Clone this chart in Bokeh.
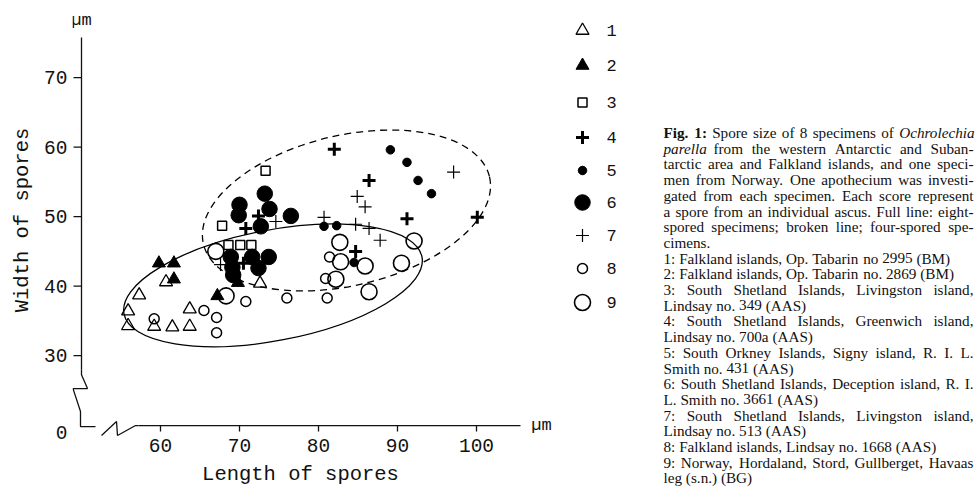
from bokeh.plotting import figure
from bokeh.models import Range1d, LinearAxis, FixedTicker
from bokeh.layouts import row
from bokeh.embed import file_html
from bokeh.resources import INLINE
from bokeh.core.properties import value

# ---------------- data (length, width of spores, in µm) ----------------
s1_len = [55.9, 55.9, 57.3, 59.2, 60.7, 61.5, 63.7, 63.7, 72.6]
s1_wid = [36.4, 34.3, 38.7, 34.2, 40.6, 34.1, 34.2, 36.7, 40.4]

s2_len = [59.8, 61.7, 61.7, 67.2, 69.8]
s2_wid = [43.3, 43.3, 41.0, 38.6, 40.5]

s3_len = [67.8, 73.3, 68.6, 70.1, 71.5]
s3_wid = [48.7, 56.6, 45.9, 45.9, 45.9]

s4_len = [70.8, 72.4, 70.5, 82.0, 86.4, 84.7, 91.2, 100.1]
s4_wid = [48.3, 50.1, 43.3, 59.7, 55.2, 45.0, 49.7, 49.9]

s5_len = [80.7, 82.3, 84.5, 89.1, 91.2, 92.6, 94.3]
s5_wid = [48.6, 48.7, 43.4, 59.6, 57.8, 55.2, 53.3]

s6_len = [73.2, 70.0, 73.8, 69.9, 76.5, 72.7, 68.9, 71.6, 73.7, 72.4, 69.1, 69.2]
s6_wid = [53.3, 51.7, 51.1, 50.2, 50.1, 48.6, 44.2, 44.2, 44.2, 42.6, 42.7, 41.6]

s7_len = [74.6, 80.7, 84.7, 86.4, 87.8, 84.9, 85.9, 97.1, 67.6]
s7_wid = [49.3, 49.9, 48.9, 48.3, 46.6, 52.9, 51.4, 56.4, 43.1]

s8_len = [59.2, 65.5, 67.1, 67.1, 70.8, 76.0, 81.1, 80.9, 81.4]
s8_wid = [35.3, 36.5, 35.5, 33.3, 37.8, 38.3, 38.3, 41.1, 44.2]

s9_len = [67.0, 68.3, 82.7, 82.8, 85.9, 90.5, 82.2, 86.4, 92.1]
s9_wid = [45.0, 38.6, 46.3, 43.5, 42.9, 43.3, 41.0, 39.2, 46.5]

series_names = ["1", "2", "3", "4", "5", "6", "7", "8", "9"]
series_len = [s1_len, s2_len, s3_len, s4_len, s5_len, s6_len, s7_len, s8_len, s9_len]
series_wid = [s1_wid, s2_wid, s3_wid, s4_wid, s5_wid, s6_wid, s7_wid, s8_wid, s9_wid]

# envelopes: centre length, centre width, extent along length, extent along width, tilt (deg)
eight_spored = dict(x=74.24, y=40.11, w=38.4, h=15.9, a=10.8)
four_spored = dict(x=83.54, y=50.88, w=37.2, h=21.6, a=13.2)

x_ticks = [60, 70, 80, 90, 100]
y_ticks = [30, 40, 50, 60, 70]

caption = [
    "Fig. 1: Spore size of 8 specimens of Ochrolechia",
    "parella from the western Antarctic and Suban-",
    "tarctic area and Falkland islands, and one speci-",
    "men from Norway. One apothecium was investi-",
    "gated from each specimen. Each score represent",
    "a spore from an individual ascus. Full line: eight-",
    "spored specimens; broken line; four-spored spe-",
    "cimens.",
    "1: Falkland islands, Op. Tabarin no 2995 (BM)",
    "2: Falkland islands, Op. Tabarin no. 2869 (BM)",
    "3: South Shetland Islands, Livingston island,",
    "Lindsay no. 349 (AAS)",
    "4: South Shetland Islands, Greenwich island,",
    "Lindsay no. 700a (AAS)",
    "5: South Orkney Islands, Signy island, R. I. L.",
    "Smith no. 431 (AAS)",
    "6: South Shetland Islands, Deception island, R. I.",
    "L. Smith no. 3661 (AAS)",
    "7: South Shetland Islands, Livingston island,",
    "Lindsay no. 513 (AAS)",
    "8: Falkland islands, Lindsay no. 1668 (AAS)",
    "9: Norway, Hordaland, Stord, Gullberget, Havaas",
    "leg (s.n.) (BG)",
]
justified_lines = {0, 1, 2, 3, 4, 5, 6, 10, 12, 14, 16, 18, 21}
word_styles = {(0, 0): "bold", (0, 1): "bold", (0, 8): "italic", (1, 0): "italic"}

# ---------------- styles ----------------
styles = [
    dict(marker="triangle", size=13, fill_color=None, line_width=1.3),
    dict(marker="triangle", size=13, fill_color="black", line_width=1.0),
    dict(marker="square", size=9, fill_color=None, line_width=1.5),
    dict(marker="cross", size=13, fill_color=None, line_width=3.0),
    dict(marker="circle", size=8.5, fill_color="black", line_width=1.0),
    dict(marker="circle", size=15.5, fill_color="black", line_width=1.0),
    dict(marker="cross", size=13, fill_color=None, line_width=1.2),
    dict(marker="circle", size=10, fill_color=None, line_width=1.5),
    dict(marker="circle", size=16, fill_color=None, line_width=1.6),
]

MONO = "Liberation Mono"
SERIF = "Liberation Serif"
INK = "#111111"

# page-pixel geometry of the plotting area (page == canvas)
X_PX60, X_PX_PER = 160.0, 7.9
Y_PX30, Y_PX_PER = 356.0, 6.97


def px2x(px):
    return 60 + (px - X_PX60) / X_PX_PER


def px2y(py):
    return 30 + (Y_PX30 - py) / Y_PX_PER


H = 488
W1 = 528
ML, MR, MT, MB = 72, 0, 2, 50
fl, fr, ft, fb = ML, W1 - MR, MT, H - MB

p = figure(width=W1, height=H, output_backend="svg", toolbar_location=None,
           x_range=Range1d(px2x(fl), px2x(fr)), y_range=Range1d(px2y(fb), px2y(ft)),
           x_axis_type=None, y_axis_type=None,
           min_border_left=ML, min_border_right=MR, min_border_top=MT, min_border_bottom=MB)
p.outline_line_color = None
p.background_fill_color = "white"
p.border_fill_color = "white"
try:
    p.frame_align = False
except Exception:
    pass

zero_y = px2y(433)          # broken-axis origin shown as "0"
y_axis_x = px2x(81)
x_axis_y = px2y(426)

yaxis = LinearAxis(ticker=FixedTicker(ticks=y_ticks + [zero_y], minor_ticks=[]),
                   major_label_overrides={zero_y: "0"},
                   bounds=(px2y(433.5), px2y(10.5)),
                   axis_label="Width of spores", axis_label_standoff=7)
xaxis = LinearAxis(ticker=FixedTicker(ticks=x_ticks, minor_ticks=[]),
                   bounds=(px2x(88), px2x(520)),
                   axis_label="Length of spores", axis_label_standoff=8)
for ax, standoff in ((yaxis, 5), (xaxis, 1)):
    ax.axis_line_color = None
    ax.major_tick_out = 0
    ax.major_tick_in = 0
    ax.minor_tick_out = 0
    ax.minor_tick_in = 0
    ax.major_label_text_font = MONO
    ax.major_label_text_font_size = "19.5px"
    ax.major_label_text_color = INK
    ax.major_label_standoff = standoff
    ax.axis_label_text_font = MONO
    ax.axis_label_text_font_size = "20.5px"
    ax.axis_label_text_font_style = "normal"
    ax.axis_label_text_color = INK
p.add_layout(yaxis, "left")
p.add_layout(xaxis, "below")

# axis lines and tick marks
p.line([y_axis_x, y_axis_x], [px2y(370), px2y(37)], line_color=INK, line_width=1.3)
p.line([px2x(138), px2x(520)], [x_axis_y, x_axis_y], line_color=INK, line_width=1.3)
p.segment(x0=[px2x(73)] * len(y_ticks), y0=y_ticks, x1=[y_axis_x] * len(y_ticks), y1=y_ticks,
          line_color=INK, line_width=1.3)
p.segment(x0=x_ticks, y0=[x_axis_y] * len(x_ticks), x1=x_ticks, y1=[px2y(432)] * len(x_ticks),
          line_color=INK, line_width=1.3)

# axis breaks
brk1 = [(81, 370), (81, 375), (87, 389), (72.5, 389), (80, 412), (80, 427), (95, 427)]
brk2 = [(101, 436), (116, 422), (117, 436), (135, 426), (138, 426)]
for path in (brk1, brk2):
    p.line([px2x(a) for a, b in path], [px2y(b) for a, b in path], line_color=INK, line_width=1.3)

# envelopes
p.ellipse(x=[eight_spored["x"]], y=[eight_spored["y"]], width=[eight_spored["w"]], height=[eight_spored["h"]],
          angle=[eight_spored["a"]], angle_units="deg", fill_color=None, line_color="black", line_width=1.3)
p.ellipse(x=[four_spored["x"]], y=[four_spored["y"]], width=[four_spored["w"]], height=[four_spored["h"]],
          angle=[four_spored["a"]], angle_units="deg", fill_color=None, line_color="black", line_width=1.3,
          line_dash="7 5")

for xs, ys, st in zip(series_len, series_wid, styles):
    p.scatter(x=xs, y=ys, marker=st["marker"], size=st["size"], fill_color=st["fill_color"],
              line_color="black", line_width=st["line_width"])

# unit label at the top of the y axis
p.text(x=[px2x(81)], y=[px2y(20)], text=["µm"], text_font=value(MONO),
       text_font_size=value("17px"), text_align="center", text_baseline="middle", text_color=INK)

# ---------------- legend + caption panel (page-pixel coordinates) ----------------
W2 = 975 - W1
p2 = figure(width=W2, height=H, output_backend="svg", toolbar_location=None,
            x_range=Range1d(W1, W1 + W2), y_range=Range1d(H, 0),
            x_axis_type=None, y_axis_type=None, min_border=0)
p2.outline_line_color = None
try:
    p2.frame_align = False
except Exception:
    pass

# unit label at the end of the x axis
p2.text(x=[541], y=[425], text=["µm"], text_font=value(MONO), text_font_size=value("17px"),
        text_align="center", text_baseline="middle", text_color=INK)

legend_y = [30, 65, 102, 137, 170, 202, 235, 268, 302]
for name, st, ly in zip(series_names, styles, legend_y):
    p2.scatter(x=[582], y=[ly], marker=st["marker"], size=st["size"], fill_color=st["fill_color"],
               line_color="black", line_width=st["line_width"])
p2.text(x=[606] * len(series_names), y=legend_y, text=series_names, text_font=value(MONO),
        text_font_size=value("17px"), text_baseline="middle", text_align="left", text_color=INK)

# caption, justified like the printed figure legend
TIMES_W = dict(zip("abcdefghijklmnopqrstuvwxyz",
                   [444, 500, 444, 500, 444, 333, 500, 500, 278, 278, 500, 278, 778,
                    500, 500, 500, 500, 333, 389, 278, 500, 500, 722, 500, 500, 444]))
TIMES_W.update(zip("ABCDEFGHIJKLMNOPQRSTUVWXYZ",
                   [722, 667, 667, 722, 611, 556, 722, 722, 333, 389, 722, 611, 889,
                    722, 722, 556, 722, 667, 556, 611, 722, 722, 944, 722, 722, 611]))
TIMES_W.update({c: 500 for c in "0123456789"})
TIMES_W.update({" ": 250, ".": 250, ",": 250, ":": 278, ";": 278, "(": 333, ")": 333, "-": 333})

CAP_FS = 15.2
CAP_LEFT, CAP_RIGHT = 663, 973
cap_y0, cap_dy = 132.0, 15.7


def word_width(word, style):
    w = sum(TIMES_W.get(c, 500) for c in word) * CAP_FS / 1000.0
    return w * (1.06 if style == "bold" else 1.0)


groups = {"normal": ([], [], []), "bold": ([], [], []), "italic": ([], [], [])}
for i, line in enumerate(caption):
    words = line.split(" ")
    sts = [word_styles.get((i, j), "normal") for j in range(len(words))]
    widths = [word_width(w, s) for w, s in zip(words, sts)]
    if i in justified_lines and len(words) > 1:
        gap = (CAP_RIGHT - CAP_LEFT - sum(widths)) / (len(words) - 1)
    else:
        gap = TIMES_W[" "] * CAP_FS / 1000.0
    xpos = CAP_LEFT
    ypos = cap_y0 + i * cap_dy
    for w, s, wd in zip(words, sts, widths):
        gx, gy, gt = groups[s]
        gx.append(xpos)
        gy.append(ypos)
        gt.append(w)
        xpos += wd + gap

for style, (gx, gy, gt) in groups.items():
    p2.text(x=gx, y=gy, text=gt, text_font=value(SERIF), text_font_size=value(f"{CAP_FS}px"),
            text_font_style=style, text_baseline="middle", text_align="left", text_color=INK)

layout = row(p, p2, spacing=0)
open("out.html", "w").write(file_html(layout, INLINE))
